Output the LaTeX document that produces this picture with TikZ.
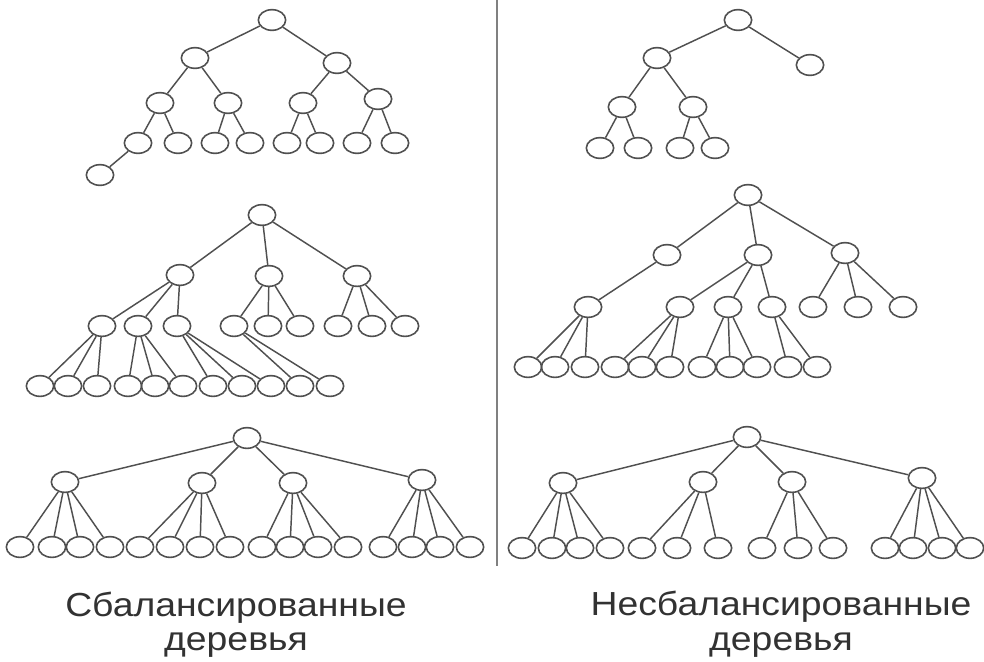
\documentclass[tikz,border=0pt]{standalone}
\usepackage{fontspec}
\setmainfont{Liberation Sans}
\usepackage{tikz}
\usetikzlibrary{shapes.geometric}
\definecolor{trline}{RGB}{80,80,80}
\definecolor{trtext}{RGB}{50,50,50}

\begin{document}
\begin{tikzpicture}[x=.75pt,y=-.75pt,
    nd/.style={ellipse,draw=trline,line width=1.2pt,minimum width=20.5pt,minimum height=15.5pt,inner sep=0pt},
    ln/.style={draw=trline,line width=1.1pt},
    lbl/.style={anchor=base,text=trtext,font=\fontsize{25}{25}\selectfont}]
  \useasboundingbox (0,0) rectangle (984,661);
  % top left
  \node[nd] (a0) at (272,20) {};
  \node[nd] (a1) at (195,58) {};
  \node[nd] (a2) at (337,63) {};
  \node[nd] (a3) at (160,103) {};
  \node[nd] (a4) at (228,103) {};
  \node[nd] (a5) at (303,103) {};
  \node[nd] (a6) at (378,99) {};
  \foreach \n/\x in {7/138,8/178,9/215,10/250,11/287,12/320,13/357,14/395}
    \node[nd] (a\n) at (\x,143) {};
  \node[nd] (a15) at (100,175) {};
  \foreach \p/\c in {a0/a1,a0/a2,a1/a3,a1/a4,a2/a5,a2/a6,a3/a7,a3/a8,a4/a9,a4/a10,
      a5/a11,a5/a12,a6/a13,a6/a14,a7/a15}
    \draw[ln] (\p) -- (\c);
  % top right
  \node[nd] (b0) at (738,20) {};
  \node[nd] (b1) at (657,58) {};
  \node[nd] (b2) at (810,65) {};
  \node[nd] (b3) at (622,107) {};
  \node[nd] (b4) at (693,107) {};
  \foreach \n/\x in {5/600,6/638,7/680,8/715}
    \node[nd] (b\n) at (\x,148) {};
  \foreach \p/\c in {b0/b1,b0/b2,b1/b3,b1/b4,b3/b5,b3/b6,b4/b7,b4/b8}
    \draw[ln] (\p) -- (\c);
  % middle left
  \node[nd] (c0) at (262,215) {};
  \node[nd] (c1) at (180,275) {};
  \node[nd] (c2) at (269,276) {};
  \node[nd] (c3) at (357,276) {};
  \foreach \n/\x in {4/102,5/138,6/177,7/234,8/268,9/300,10/338,11/372,12/405}
    \node[nd] (c\n) at (\x,326) {};
  \foreach \n/\x in {13/40,14/68,15/97,16/128,17/155,18/183,19/213,20/242,21/271,22/300,23/330}
    \node[nd] (c\n) at (\x,386) {};
  \foreach \p/\c in {c0/c1,c0/c2,c0/c3,c1/c4,c1/c5,c1/c6,c2/c7,c2/c8,c2/c9,c3/c10,c3/c11,c3/c12,
      c4/c13,c4/c14,c4/c15,c5/c16,c5/c17,c5/c18,c6/c19,c6/c20,c6/c21,c7/c22,c7/c23}
    \draw[ln] (\p) -- (\c);
  % middle right
  \node[nd] (d0) at (748,195) {};
  \node[nd] (d1) at (667,255) {};
  \node[nd] (d2) at (758,255) {};
  \node[nd] (d3) at (845,253) {};
  \foreach \n/\x in {4/588,5/680,6/728,7/772,8/813,9/858,10/903}
    \node[nd] (d\n) at (\x,307) {};
  \foreach \n/\x in {11/528,12/555,13/585,14/615,15/642,16/670,17/702,18/730,19/757,20/788,21/817}
    \node[nd] (d\n) at (\x,367) {};
  \foreach \p/\c in {d0/d1,d0/d2,d0/d3,d1/d4,d2/d5,d2/d6,d2/d7,d3/d8,d3/d9,d3/d10,
      d4/d11,d4/d12,d4/d13,d5/d14,d5/d15,d5/d16,d6/d17,d6/d18,d6/d19,d7/d20,d7/d21}
    \draw[ln] (\p) -- (\c);
  % bottom left
  \node[nd] (e0) at (247,438) {};
  \node[nd] (e1) at (65,482) {};
  \node[nd] (e2) at (202,483) {};
  \node[nd] (e3) at (293,483) {};
  \node[nd] (e4) at (422,480) {};
  \foreach \n/\x in {5/20,6/52,7/80,8/110,9/140,10/170,11/200,12/230,
      13/262,14/290,15/318,16/348,17/383,18/412,19/440,20/470}
    \node[nd] (e\n) at (\x,547) {};
  \foreach \p/\c in {e0/e1,e0/e2,e0/e3,e0/e4,e1/e5,e1/e6,e1/e7,e1/e8,e2/e9,e2/e10,e2/e11,e2/e12,
      e3/e13,e3/e14,e3/e15,e3/e16,e4/e17,e4/e18,e4/e19,e4/e20}
    \draw[ln] (\p) -- (\c);
  % bottom right
  \node[nd] (f0) at (747,437) {};
  \node[nd] (f1) at (563,483) {};
  \node[nd] (f2) at (703,482) {};
  \node[nd] (f3) at (792,482) {};
  \node[nd] (f4) at (922,478) {};
  \foreach \n/\x in {5/522,6/552,7/580,8/610,9/642,10/677,11/718,
      12/762,13/798,14/833,15/885,16/913,17/942,18/970}
    \node[nd] (f\n) at (\x,548) {};
  \foreach \p/\c in {f0/f1,f0/f2,f0/f3,f0/f4,f1/f5,f1/f6,f1/f7,f1/f8,f2/f9,f2/f10,f2/f11,
      f3/f12,f3/f13,f3/f14,f4/f15,f4/f16,f4/f17,f4/f18}
    \draw[ln] (\p) -- (\c);
  % divider
  \coordinate (top) at (497,0);
  \coordinate (bot) at (497,566);
  \draw[draw=gray,line width=1.3pt] (top) -- (bot);
  % labels
  \node[lbl] (bal1) at (236,616) {\scalebox{1.12}[1]{Сбалансированные}};
  \node[lbl] (bal2) at (236,650) {\scalebox{1.12}[1]{деревья}};
  \node[lbl] (unb1) at (781,615) {\scalebox{1.12}[1]{Несбалансированные}};
  \node[lbl] (unb2) at (781,650) {\scalebox{1.12}[1]{деревья}};
\end{tikzpicture}
\end{document}
